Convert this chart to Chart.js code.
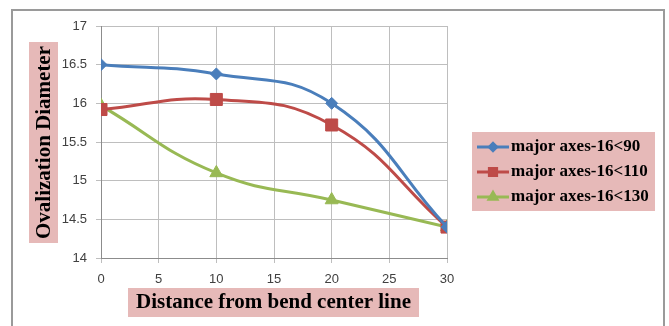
<!DOCTYPE html>
<html>
<head>
<meta charset="utf-8">
<script src="https://cdn.jsdelivr.net/npm/chart.js@4"></script>
<style>
  html, body { margin: 0; padding: 0; background: #fff; }
  #wrap { width: 669px; height: 326px; }
</style>
</head>
<body>
<div id="wrap"><canvas id="ovalChart" width="669" height="326"></canvas></div>
<script>
// distance from bend center line
var distances = [0, 10, 20, 30];

// ovalization diameter per bend angle
var axes90  = [16.5, 16.38, 16.0, 14.4];
var axes110 = [15.92, 16.05, 15.72, 14.4];
var axes130 = [15.97, 15.1, 14.75, 14.4];

var seriesNames = ['major axes-16<90', 'major axes-16<110', 'major axes-16<130'];

var xTitle = 'Distance from bend center line';
var yTitle = 'Ovalization Diameter';

function toPoints(vals) {
  var pts = [];
  for (var i in vals) {
    pts.push({ x: distances[i], y: vals[i] });
  }
  return pts;
}

var pink = '#E6B9B8';
var titleFont = 'bold 21px "Liberation Serif", "Times New Roman", serif';
var legendFont = 'bold 17px "Liberation Serif", "Times New Roman", serif';

// frame, pink title boxes and the legend are painted by hand
var decorations = {
  id: 'decorations',
  beforeDraw: function(chart) {
    var ctx = chart.ctx;
    ctx.save();
    ctx.fillStyle = pink;
    ctx.fillRect(128, 288, 291, 29);
    ctx.fillRect(29, 42, 29, 201);
    ctx.fillRect(472, 132, 183, 79);
    ctx.restore();
  },
  afterDraw: function(chart) {
    var ctx = chart.ctx;
    ctx.save();

    // outer frame (no bottom edge)
    ctx.strokeStyle = '#9a9a9a';
    ctx.lineWidth = 2;
    ctx.beginPath();
    ctx.moveTo(12, 326);
    ctx.lineTo(12, 10);
    ctx.lineTo(664, 10);
    ctx.lineTo(664, 326);
    ctx.stroke();

    // axis titles
    ctx.fillStyle = '#000';
    ctx.font = titleFont;
    ctx.textAlign = 'center';
    ctx.textBaseline = 'middle';
    ctx.fillText(xTitle, 273.5, 303);
    ctx.translate(44, 142.5);
    ctx.rotate(-Math.PI / 2);
    ctx.fillText(yTitle, 0, 1);
    ctx.setTransform(1, 0, 0, 1, 0, 0);

    // legend
    var rows = [147, 172, 197];
    chart.data.datasets.forEach(function(ds, i) {
      var y = rows[i];
      ctx.strokeStyle = ds.borderColor;
      ctx.lineWidth = 3;
      ctx.beginPath();
      ctx.moveTo(477, y);
      ctx.lineTo(509, y);
      ctx.stroke();
      var r = ds.pointRadius * 0.6;
      Chart.helpers.drawPoint(ctx, { pointStyle: ds.pointStyle, radius: r, borderWidth: 1 }, 493, y);
      ctx.fillStyle = ds.borderColor;
      ctx.fill();
      ctx.fillStyle = '#000';
      ctx.font = legendFont;
      ctx.textAlign = 'left';
      ctx.textBaseline = 'middle';
      ctx.fillText(ds.label, 511, y);
    });
    ctx.restore();
  }
};

var colors = ['#4A7EBB', '#BE4B48', '#98B954'];
var styles = ['rectRot', 'rect', 'triangle'];
var radii = [6, 8.5, 7.5];
var values = [axes90, axes110, axes130];

var datasets = [];
for (var i = 0; i < values.length; i++) {
  datasets.push({
    label: seriesNames[i],
    data: toPoints(values[i]),
    borderColor: colors[i],
    backgroundColor: colors[i],
    borderWidth: 3,
    tension: 0.45,
    pointStyle: styles[i],
    pointRadius: radii[i],
    pointBorderWidth: 1,
    pointBackgroundColor: colors[i],
    pointBorderColor: colors[i]
  });
}

var tickFont = { family: '"Liberation Sans", Arial, sans-serif', size: 13 };

new Chart(document.getElementById('ovalChart'), {
  type: 'line',
  data: { datasets: datasets },
  options: {
    responsive: false,
    animation: false,
    devicePixelRatio: 1,
    layout: { padding: { left: 0, right: 222, top: 26, bottom: 0 } },
    plugins: {
      legend: { display: false },
      tooltip: { enabled: false }
    },
    scales: {
      x: {
        type: 'linear',
        min: 0,
        max: 30,
        ticks: { stepSize: 5, color: '#404040', font: tickFont, padding: 9, maxRotation: 0 },
        grid: { color: '#BEBEBE', tickLength: 5, lineWidth: 1 },
        border: { color: '#8C8C8C' },
        afterFit: function(scale) { scale.height = 68; }
      },
      y: {
        min: 14,
        max: 17,
        ticks: {
          stepSize: 0.5, color: '#404040', font: tickFont, padding: 9,
          callback: function(v) { return String(v); }
        },
        grid: { color: '#BEBEBE', tickLength: 5, lineWidth: 1 },
        border: { color: '#8C8C8C' },
        afterFit: function(scale) { scale.width = 101; }
      }
    }
  },
  plugins: [decorations]
});
</script>
</body>
</html>
